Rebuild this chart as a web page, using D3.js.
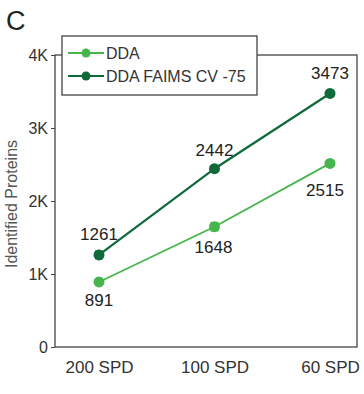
<!DOCTYPE html>
<html><head><meta charset="utf-8">
<script src="https://cdn.jsdelivr.net/npm/d3@7"></script>
<style>body{margin:0;background:#fff}svg{display:block;font-family:"Liberation Sans",Arial,sans-serif}</style>
</head><body><svg id="c" width="364" height="394"></svg>
<script>
const categories = ["200 SPD", "100 SPD", "60 SPD"];
const ddaValues = [891, 1648, 2515];
const ddaErrors = [40, 55, 30];
const faimsValues = [1261, 2442, 3473];
const faimsErrors = [50, 35, 30];
const seriesNames = ["DDA", "DDA FAIMS CV -75"];
const yTickValues = [0, 1000, 2000, 3000, 4000];
const yTickLabels = ["0", "1K", "2K", "3K", "4K"];

const svg = d3.select("#c");
const frame = {left: 55, right: 357, top: 55, bottom: 347};
const x = d3.scalePoint().domain(categories).range([99, 330]);
const y = d3.scaleLinear().domain([0, 4000]).range([frame.bottom, frame.top]);

const colors = ["#46b64c", "#0f6a3a"];
const series = [
  {name: seriesNames[0], values: ddaValues, errors: ddaErrors, color: colors[0], lw: 1.8, labelPos: "below"},
  {name: seriesNames[1], values: faimsValues, errors: faimsErrors, color: colors[1], lw: 2.2, labelPos: "above"}
];

// panel letter
svg.append("text").attr("x", 6).attr("y", 30).attr("font-size", 27).attr("fill", "#222").text("C");

// frame
svg.append("rect").attr("x", frame.left).attr("y", frame.top)
  .attr("width", frame.right - frame.left).attr("height", frame.bottom - frame.top)
  .attr("fill", "none").attr("stroke", "#444").attr("stroke-width", 1.3);

// y axis
const yAxis = d3.axisLeft(y).tickValues(yTickValues).tickSize(4).tickPadding(3)
  .tickFormat((d, i) => yTickLabels[i]);
const gy = svg.append("g").attr("transform", `translate(${frame.left},0)`).call(yAxis);
gy.select(".domain").remove();
gy.selectAll("line").attr("stroke", "#444");
gy.selectAll("text").attr("font-size", 16).attr("fill", "#333").attr("font-family", "Liberation Sans, Arial, sans-serif");

// x axis labels
const xAxis = d3.axisBottom(x).tickSize(0).tickPadding(14);
const gx = svg.append("g").attr("transform", `translate(0,${frame.bottom})`).call(xAxis);
gx.select(".domain").remove();
gx.selectAll("text").attr("font-size", 17).attr("fill", "#333").attr("font-family", "Liberation Sans, Arial, sans-serif");

// y title
svg.append("text").attr("transform", `translate(17,${(frame.top+frame.bottom)/2 + 3}) rotate(-90)`)
  .attr("text-anchor", "middle").attr("font-size", 16).attr("fill", "#555").text("Identified Proteins");

// series
const line = d3.line().x((d, i) => x(categories[i])).y(d => y(d));
series.forEach(s => {
  svg.append("path").datum(s.values).attr("d", line)
    .attr("fill", "none").attr("stroke", s.color).attr("stroke-width", s.lw);
  const g = svg.append("g");
  s.values.forEach((v, i) => {
    const cx = x(categories[i]);
    const e = s.errors[i];
    g.append("line").attr("x1", cx).attr("x2", cx).attr("y1", y(v - e)).attr("y2", y(v + e)).attr("stroke", s.color).attr("stroke-width", 1.5);
    [v - e, v + e].forEach(t => g.append("line").attr("x1", cx - 4).attr("x2", cx + 4).attr("y1", y(t)).attr("y2", y(t)).attr("stroke", s.color).attr("stroke-width", 1.5));
    g.append("circle").attr("cx", cx).attr("cy", y(v)).attr("r", 5.5).attr("fill", s.color);
  });
});

// value labels
const labelOffsets = {
  "DDA": [[0, 24], [-1, 26], [-5, 33]],
  "DDA FAIMS CV -75": [[0, -15], [0, -13], [0, -14]]
};
series.forEach(s => {
  s.values.forEach((v, i) => {
    const o = labelOffsets[s.name][i];
    svg.append("text").attr("x", x(categories[i]) + o[0]).attr("y", y(v) + o[1])
      .attr("text-anchor", "middle").attr("font-size", 17).attr("fill", "#222").text(v);
  });
});

// legend
const lg = svg.append("g");
lg.append("rect").attr("x", 62).attr("y", 36).attr("width", 195).attr("height", 59)
  .attr("fill", "#fff").attr("stroke", "#444").attr("stroke-width", 1.3);
series.forEach((s, i) => {
  const ly = 53 + i * 23;
  lg.append("line").attr("x1", 68).attr("x2", 104).attr("y1", ly).attr("y2", ly).attr("stroke", s.color).attr("stroke-width", 2.2);
  lg.append("circle").attr("cx", 86).attr("cy", ly).attr("r", 4.5).attr("fill", s.color);
  lg.append("text").attr("x", 106).attr("y", ly + 6).attr("font-size", 16).attr("fill", "#333").text(s.name);
});
</script></body></html>
